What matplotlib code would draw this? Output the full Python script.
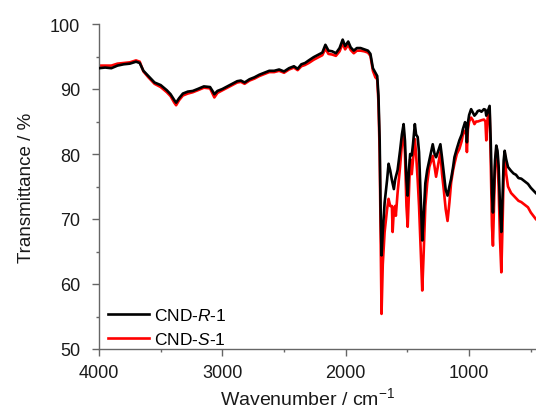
import matplotlib
matplotlib.use("Agg")
import matplotlib.pyplot as plt
from matplotlib.ticker import MultipleLocator

plt.rcParams['font.family'] = ['Liberation Sans', 'DejaVu Sans']
plt.rcParams['mathtext.fontset'] = 'custom'
plt.rcParams['mathtext.rm'] = 'Liberation Sans'
plt.rcParams['mathtext.it'] = 'Liberation Sans:italic'

# Wavenumbers (cm^-1)
wavenumber = [4000, 3950, 3900, 3850, 3800, 3750, 3700, 3670, 3640, 3600, 3550, 3500, 3450, 3420,
              3390, 3375, 3350, 3320, 3280, 3240, 3200, 3150, 3100, 3080, 3065, 3040, 3000, 2960,
              2920, 2880, 2850, 2820, 2780, 2740, 2700, 2660, 2620, 2580, 2540, 2500, 2460, 2420,
              2390, 2360, 2330, 2300, 2260, 2220, 2190, 2165, 2140, 2110, 2080, 2050, 2025, 2005,
              1980, 1960, 1935, 1910, 1880, 1850, 1820, 1800, 1780, 1760, 1745, 1735, 1725, 1718,
              1710, 1700, 1685, 1665, 1653, 1640, 1626, 1620, 1610, 1600, 1594, 1580, 1560, 1545,
              1531, 1520, 1508, 1498, 1488, 1478, 1465, 1455, 1440, 1430, 1417, 1406, 1392, 1380,
              1370, 1355, 1340, 1323, 1295, 1280, 1268, 1250, 1233, 1220, 1206, 1190, 1175, 1160,
              1146, 1130, 1119, 1100, 1079, 1060, 1051, 1033, 1025, 1018, 1010, 1000, 984, 970,
              957, 943, 930, 916, 900, 880, 868, 861, 850, 834, 825, 815, 807, 798, 790, 780, 770,
              761, 750, 739, 728, 720, 712, 700, 685, 660, 640, 620, 600, 577, 550, 523, 500, 480, 460]

# CND-R-1 transmittance (%)
trans_R = [93.2, 93.3, 93.2, 93.6, 93.8, 93.9, 94.2, 94.0, 92.8, 92.0, 91.0, 90.6, 89.8, 89.2,
           88.3, 87.9, 88.6, 89.3, 89.6, 89.7, 90.0, 90.4, 90.3, 89.7, 89.2, 89.7, 90.0, 90.4,
           90.8, 91.2, 91.3, 91.0, 91.5, 91.8, 92.2, 92.5, 92.8, 92.8, 93.0, 92.7, 93.2, 93.5,
           93.1, 93.8, 94.0, 94.4, 94.9, 95.3, 95.6, 96.8, 95.9, 95.8, 95.5, 96.3, 97.6, 96.6,
           97.3, 96.4, 95.9, 96.3, 96.3, 96.1, 95.9, 95.4, 93.2, 92.5, 92.0, 89.0, 82.0, 72.0,
           64.4, 68.0, 72.5, 76.0, 78.5, 77.5, 76.0, 75.5, 74.6, 76.0, 76.5, 77.5, 80.5, 83.0,
           84.6, 82.0, 76.0, 73.6, 77.5, 80.0, 79.8, 81.5, 84.6, 83.0, 82.6, 80.3, 73.0, 66.7,
           70.0, 75.5, 77.5, 79.0, 81.5, 80.0, 79.5, 80.5, 81.5, 79.5, 77.2, 74.5, 73.6, 75.0,
           76.2, 78.0, 79.5, 80.8, 82.1, 83.0, 83.8, 84.9, 84.5, 81.8, 84.8, 86.0, 86.9, 86.4,
           85.9, 86.2, 86.6, 86.7, 86.5, 86.9, 86.8, 85.9, 86.5, 87.4, 82.0, 74.0, 71.0, 75.0,
           79.0, 81.3, 80.5, 78.2, 72.0, 68.0, 74.0, 79.0, 80.5, 79.2, 78.0, 77.4, 77.0, 76.8,
           76.3, 76.2, 75.8, 75.4, 74.8, 74.4, 74.0]

# CND-S-1 transmittance (%)
trans_S = [93.6, 93.6, 93.6, 93.9, 94.0, 94.1, 94.4, 94.2, 92.7, 91.8, 90.8, 90.3, 89.5, 88.9,
           87.9, 87.5, 88.3, 89.0, 89.3, 89.5, 89.8, 90.2, 90.1, 89.3, 88.7, 89.4, 89.8, 90.2,
           90.6, 91.0, 91.1, 90.8, 91.3, 91.6, 92.0, 92.3, 92.6, 92.6, 92.8, 92.5, 93.0, 93.3,
           92.9, 93.5, 93.7, 94.0, 94.5, 94.9, 95.2, 96.2, 95.4, 95.3, 95.1, 95.8, 97.0, 96.1,
           96.8, 96.0, 95.5, 95.9, 95.9, 95.8, 95.6, 95.1, 92.8, 91.8, 91.5, 88.0, 80.0, 68.0,
           55.4, 63.0, 68.0, 71.5, 73.1, 72.0, 72.0, 68.0, 71.5, 72.0, 70.5, 74.0, 78.0, 81.5,
           83.6, 80.0, 72.0, 68.8, 74.0, 79.2, 76.9, 79.0, 82.3, 80.0, 76.0, 72.0, 65.0, 59.0,
           64.0, 72.0, 75.5, 78.0, 79.7, 78.0, 76.5, 78.5, 80.3, 77.0, 74.6, 71.5, 69.7, 72.5,
           75.6, 77.5, 78.5, 80.0, 80.8, 82.0, 83.0, 83.6, 83.2, 80.3, 83.8, 85.0, 85.6, 85.2,
           84.6, 85.0, 85.0, 85.1, 85.2, 85.3, 85.0, 82.1, 85.5, 86.8, 79.0, 69.0, 65.9, 72.0,
           78.0, 80.5, 79.0, 75.0, 67.0, 61.8, 70.0, 77.0, 80.3, 77.0, 75.0, 74.0, 73.6, 73.2,
           72.8, 72.6, 72.2, 71.8, 71.0, 70.5, 70.0]

x_ticks = [4000, 3000, 2000, 1000]
y_ticks = [50, 60, 70, 80, 90, 100]

fig = plt.figure(figsize=(5.36, 4.10), dpi=100)
ax = fig.add_axes([99/536, 1 - 350/410, 1 - 99/536, (350 - 25)/410])

ax.plot(wavenumber, trans_S, color='#ff0000', lw=1.9, label='CND-$\\mathit{S}$-1', zorder=2)
ax.plot(wavenumber, trans_R, color='#000000', lw=1.9, label='CND-$\\mathit{R}$-1', zorder=3)

ax.set_xlim(4000, 458)
ax.set_ylim(50, 100)
ax.set_xticks(x_ticks)
ax.set_yticks(y_ticks)
ax.xaxis.set_minor_locator(MultipleLocator(500))
ax.yaxis.set_minor_locator(MultipleLocator(5))

spine_col = '#666666'
for s in ['top', 'right']:
    ax.spines[s].set_visible(False)
for s in ['left', 'bottom']:
    ax.spines[s].set_color(spine_col)
    ax.spines[s].set_linewidth(1.0)
ax.tick_params(which='major', direction='out', length=5, width=1.0, color=spine_col,
               labelsize=13, labelcolor='#1a1a1a')
ax.tick_params(which='minor', direction='out', length=2.5, width=1.0, color=spine_col)
ax.tick_params(axis='y', which='major', pad=8.5)
ax.tick_params(axis='x', which='major', pad=5.5)

ax.set_xlabel('Wavenumber / cm$^{-1}$', fontsize=14, color='#1a1a1a', labelpad=1)
ax.xaxis.set_label_coords(0.478, -0.115)
ax.set_ylabel('Transmittance / %', fontsize=13.5, color='#1a1a1a', labelpad=11)

h, l = ax.get_legend_handles_labels()
leg = ax.legend(h[::-1], l[::-1], loc='lower left', frameon=False, fontsize=12.5,
                handlelength=2.4, handletextpad=0.25, labelspacing=0.45,
                borderaxespad=0.3, bbox_to_anchor=(-0.008, -0.032))

fig.savefig('out.png', dpi=100)
